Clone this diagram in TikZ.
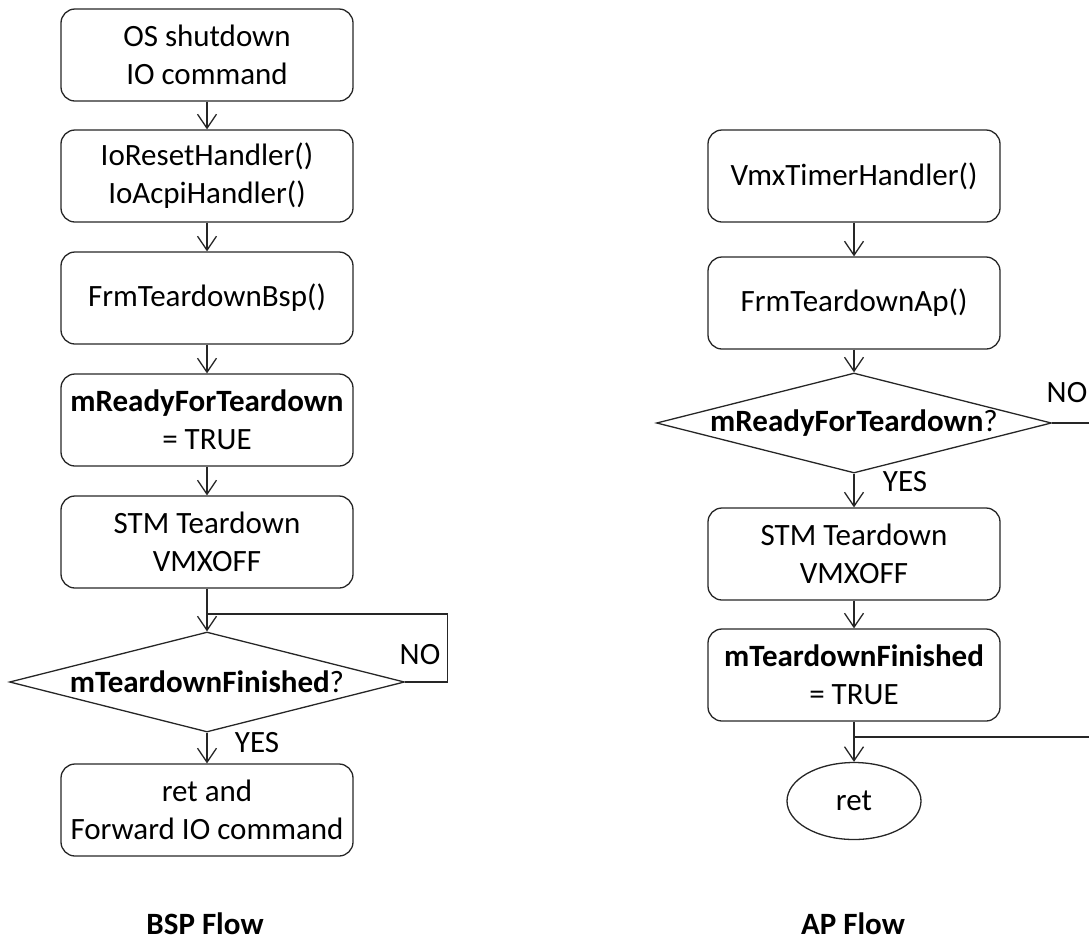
\documentclass[tikz,border=0pt]{standalone}
\usepackage{fontspec}
\setmainfont{Carlito}
\usetikzlibrary{shapes.geometric,arrows.meta}
\begin{document}
\begin{tikzpicture}[x=1pt,y=-1pt,
  every node/.style={font=\fontsize{31}{38}\selectfont, text=black},
  box/.style={draw=black!85, rounded corners=14pt, minimum width=292pt, minimum height=92pt, align=center, inner sep=0pt, line width=1.3pt},
  dec/.style={draw=black!85, diamond, minimum width=395pt, minimum height=100pt, inner sep=0pt, line width=1.3pt},
  term/.style={draw=black!85, ellipse, minimum width=134pt, minimum height=77pt, inner sep=0pt, line width=1.3pt},
  flow/.style={draw=black!85, -{Straight Barb[length=14pt,width=19pt]}, line width=1.3pt},
  wire/.style={draw=black!85, line width=1.3pt},
  lab/.style={inner sep=0pt},
  title/.style={font=\fontsize{31}{38}\selectfont\bfseries, anchor=base, inner sep=0pt, text depth=0pt}]
\useasboundingbox (0,0) rectangle (1089,943);

% BSP flow
\node[box] (b1) at (207,55) {OS shutdown\\IO command};
\node[box] (b2) at (207,176) {IoResetHandler()\\IoAcpiHandler()};
\node[box] (b3) at (207,298) {FrmTeardownBsp()};
\node[box] (b4) at (207,420) {\textbf{mReadyForTeardown}\\= TRUE};
\node[box] (b5) at (207,542) {STM Teardown\\VMXOFF};
\node[dec, label={center:\textbf{mTeardownFinished}?}] (d1) at (207,682) {};
\node[box] (b6) at (207,810) {ret and\\Forward IO command};
\coordinate (j1) at (207,614);

\draw[flow] (b1) -- (b2);
\draw[flow] (b2) -- (b3);
\draw[flow] (b3) -- (b4);
\draw[flow] (b4) -- (b5);
\draw[flow] (b5) -- (d1);
\draw[flow] (d1) -- (b6);
\draw[wire] (d1.east) -- ++(42,0) |- (j1);
\node[lab] (no1) at (420,655) {NO};
\node[lab] (yes1) at (257,743) {YES};
\node[title] (t1) at (205,934) {BSP Flow};

% AP flow
\node[box] (a1) at (854,176) {VmxTimerHandler()};
\node[box] (a2) at (854,303) {FrmTeardownAp()};
\node[dec, label={center:\textbf{mReadyForTeardown}?}] (d2) at (854,423) {};
\node[box] (a3) at (854,554) {STM Teardown\\VMXOFF};
\node[box] (a4) at (854,675) {\textbf{mTeardownFinished}\\= TRUE};
\node[term] (r) at (854,801) {ret};
\coordinate (e1) at (1089,423);
\coordinate (e2) at (1089,737);
\coordinate (j2) at (854,737);

\draw[flow] (a1) -- (a2);
\draw[flow] (a2) -- (d2);
\draw[flow] (d2) -- (a3);
\draw[flow] (a3) -- (a4);
\draw[flow] (a4) -- (r);
\draw[wire] (d2.east) -- (e1);
\draw[wire] (e2) -- (j2);
\node[lab] (no2) at (1067,393) {NO};
\node[lab] (yes2) at (905,482) {YES};
\node[title] (t2) at (853,934) {AP Flow};
\end{tikzpicture}
\end{document}
